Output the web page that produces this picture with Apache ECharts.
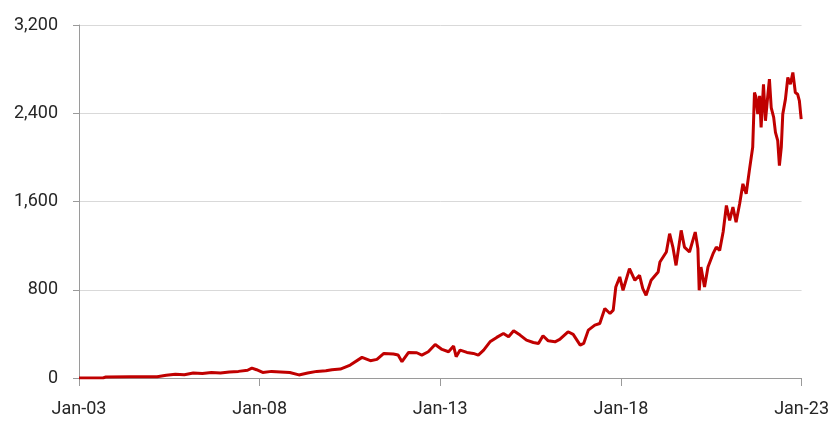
<!DOCTYPE html>
<html>
<head>
<meta charset="utf-8">
<script src="https://cdn.jsdelivr.net/npm/echarts@6/dist/echarts.min.js"></script>
<style>
  html, body { margin: 0; padding: 0; background: #fff; }
  #chart { width: 832px; height: 438px; }
</style>
</head>
<body>
<div id="chart"></div>
<script>
// dates and values
const dates = [
  "2003-01-01", "2003-09-01", "2003-10-01", "2004-06-01", "2005-03-01", "2005-06-01",
  "2005-09-01", "2005-12-01", "2006-03-01", "2006-06-01", "2006-09-01", "2006-12-01",
  "2007-03-01", "2007-06-01", "2007-09-01", "2007-10-15", "2007-12-01", "2008-02-01",
  "2008-05-01", "2008-08-01", "2008-11-01", "2009-02-01", "2009-05-01", "2009-08-01",
  "2009-11-01", "2010-01-01", "2010-03-27", "2010-07-05", "2010-11-01", "2011-01-25",
  "2011-04-01", "2011-06-10", "2011-09-15", "2011-11-01", "2011-12-10", "2012-02-15",
  "2012-05-08", "2012-06-28", "2012-09-01", "2012-11-10", "2013-01-18", "2013-03-25",
  "2013-05-15", "2013-06-10", "2013-07-20", "2013-09-27", "2013-12-01", "2014-01-20",
  "2014-03-15", "2014-05-18", "2014-07-25", "2014-10-01", "2014-11-22", "2015-01-12",
  "2015-03-18", "2015-05-22", "2015-07-30", "2015-09-20", "2015-11-05", "2015-12-28",
  "2016-03-05", "2016-04-22", "2016-07-15", "2016-09-05", "2016-11-15", "2016-12-20",
  "2017-02-05", "2017-04-12", "2017-06-01", "2017-07-22", "2017-09-12", "2017-10-15",
  "2017-11-10", "2017-12-20", "2018-01-22", "2018-03-28", "2018-05-22", "2018-07-08",
  "2018-08-10", "2018-09-12", "2018-11-02", "2019-01-12", "2019-01-30", "2019-04-05",
  "2019-05-08", "2019-06-10", "2019-07-12", "2019-09-02", "2019-10-05", "2019-11-25",
  "2020-01-22", "2020-02-18", "2020-03-02", "2020-03-20", "2020-04-25", "2020-05-30",
  "2020-07-20", "2020-08-22", "2020-09-25", "2020-10-30", "2020-12-02", "2021-01-04",
  "2021-02-06", "2021-03-10", "2021-04-15", "2021-05-18", "2021-06-20", "2021-07-22",
  "2021-08-25", "2021-09-12", "2021-09-28", "2021-10-15", "2021-11-03", "2021-11-18",
  "2021-12-12", "2022-01-01", "2022-01-26", "2022-02-10", "2022-02-28", "2022-03-25",
  "2022-04-12", "2022-05-05", "2022-05-22", "2022-06-10", "2022-06-25", "2022-07-22",
  "2022-08-15", "2022-09-10", "2022-10-05", "2022-10-30", "2022-11-22", "2022-12-10",
  "2022-12-28"
];
const values = [
  0, 0, 10, 12, 12, 25,
  35, 30, 45, 40, 50, 45,
  55, 60, 70, 90, 75, 50,
  60, 55, 50, 28, 45, 60,
  65, 75, 81, 117, 187, 157,
  169, 223, 217, 208, 148, 232,
  229, 208, 238, 304, 259, 238,
  289, 193, 253, 232, 223, 208,
  253, 328, 368, 404, 374, 428,
  389, 343, 322, 313, 383, 337,
  328, 350, 419, 395, 298, 313,
  434, 479, 494, 630, 585, 615,
  825, 916, 795, 991, 886, 931,
  810, 750, 886, 961, 1051, 1142,
  1308, 1187, 1021, 1338, 1187, 1142,
  1323, 1172, 795, 1006, 825, 1006,
  1127, 1187, 1157, 1323, 1564, 1428,
  1549, 1413, 1579, 1760, 1670, 1880,
  2091, 2588, 2543, 2392, 2558, 2272,
  2663, 2332, 2573, 2709, 2452, 2362,
  2227, 2151, 1926, 2091, 2392, 2528,
  2724, 2663, 2769, 2588, 2573, 2513,
  2347
];
const xTickLabels = ["Jan-03", "Jan-08", "Jan-13", "Jan-18", "Jan-23"];
const yTicks = [0, 800, 1600, 2400, 3200];

const chart = echarts.init(document.getElementById("chart"));

// x = years since Jan 2003, so ticks every 5 years start at 0
const start = Date.UTC(2003, 0, 1);
const yearMs = 365.25 * 24 * 3600 * 1000;
const seriesData = dates.map((d, i) => [(Date.parse(d + "T00:00:00Z") - start) / yearMs, values[i]]);

const option = {
  animation: false,
  grid: { left: 79, right: 28, top: 25, bottom: 60 },
  xAxis: {
    type: "value",
    min: 0,
    max: 20,
    interval: 5,
    axisLine: { onZero: false, lineStyle: { color: "#9a9a9a", width: 1 } },
    axisTick: { show: true, length: 8, lineStyle: { color: "#9a9a9a" } },
    axisLabel: {
      formatter: (v) => xTickLabels[Math.round(v / 5)] || "",
      fontFamily: "Roboto",
      fontSize: 18,
      color: "#262626",
      margin: 22,
    },
    splitLine: { show: false },
  },
  yAxis: {
    type: "value",
    min: yTicks[0],
    max: yTicks[yTicks.length - 1],
    interval: 800,
    axisLine: { show: true, lineStyle: { color: "#9a9a9a" } },
    axisTick: { show: true, length: 6, lineStyle: { color: "#9a9a9a" } },
    axisLabel: {
      formatter: (v) => v.toLocaleString("en-US"),
      fontFamily: "Roboto",
      fontSize: 18,
      color: "#262626",
      margin: 21,
    },
    splitLine: { lineStyle: { color: "#d9d9d9", width: 1 } },
  },
  series: [
    {
      type: "line",
      data: seriesData,
      showSymbol: false,
      lineStyle: { color: "#c00000", width: 3 },
    },
  ],
};
chart.setOption(option);
</script>
</body>
</html>
